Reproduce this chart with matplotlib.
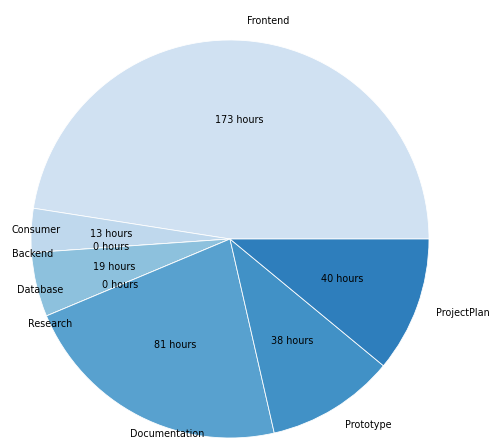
import matplotlib
matplotlib.use("Agg")
import matplotlib.pyplot as plt
import numpy as np

tasks = ['Frontend', 'Consumer', 'Backend', 'Database', 'Research',
         'Documentation', 'Prototype', 'ProjectPlan']
hours = [173, 13, 0, 19, 0, 81, 38, 40]

colors = plt.cm.Blues(np.linspace(0.2, 0.7, len(tasks)))

fig = plt.figure(figsize=(491 / 72, 442 / 72), dpi=72)
ax = fig.add_axes([0, 0, 1, 1])

total = sum(hours)
wedges, texts, autotexts = ax.pie(
    hours, labels=tasks, colors=colors,
    autopct=lambda p: '{:.0f} hours'.format(p * total / 100.0),
    wedgeprops={'edgecolor': 'white', 'linewidth': 0.8},
    textprops={'fontsize': 9.6},
)
for t in texts:
    t.set_horizontalalignment('left')

# radius 1 -> 199 px, centre at (230, 239) from top-left
r = 199.0
ax.set_aspect('auto')
ax.set_xlim(-230 / r, 261 / r)
ax.set_ylim(-203 / r, 239 / r)
ax.axis('off')

fig.savefig('out.png', dpi=72)
